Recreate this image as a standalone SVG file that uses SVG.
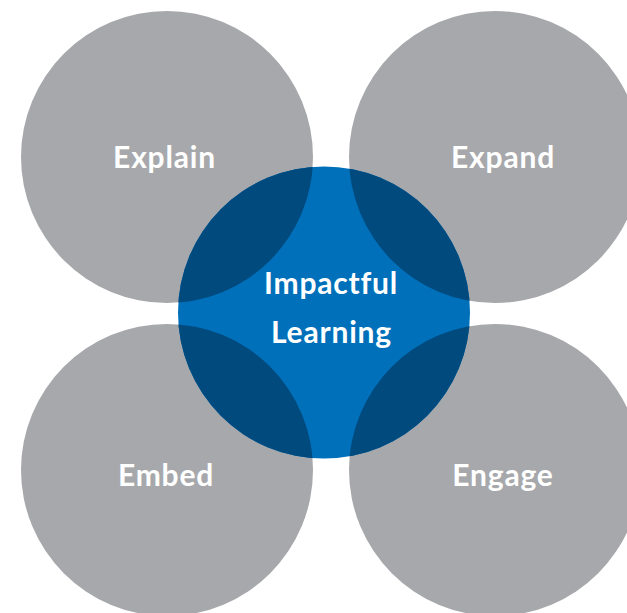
<svg xmlns="http://www.w3.org/2000/svg" width="627" height="613" viewBox="0 0 627 613">
<style>
.g{fill:#a7a8ab}
.b{fill:#0070ba}
.d{fill:#004a7e}
.t{fill:#ffffff;font-family:Lato,"Open Sans",sans-serif;font-weight:bold;font-size:30px;letter-spacing:0.8px;text-anchor:middle}
</style>
<defs>
<clipPath id="cc"><circle cx="324" cy="312.5" r="146"/></clipPath>
</defs>
<rect width="627" height="613" fill="#ffffff"/>
<g id="explain"><circle class="g" cx="167" cy="157" r="146"/></g>
<g id="expand"><circle class="g" cx="495" cy="157" r="146"/></g>
<g id="embed"><circle class="g" cx="167" cy="470" r="146"/></g>
<g id="engage"><circle class="g" cx="495" cy="470" r="146"/></g>
<g id="impactful-learning">
<circle class="b" cx="324" cy="312.5" r="146"/>
<g clip-path="url(#cc)">
<circle class="d" cx="167" cy="157" r="146"/>
<circle class="d" cx="495" cy="157" r="146"/>
<circle class="d" cx="167" cy="470" r="146"/>
<circle class="d" cx="495" cy="470" r="146"/>
</g>
</g>
<g id="connectors"/>
<g id="labels">
<text class="t" x="164.5" y="168">Explain</text>
<text class="t" x="503" y="168">Expand</text>
<text class="t" x="331" y="294">Impactful</text>
<text class="t" x="331.5" y="342.5">Learning</text>
<text class="t" x="166" y="485.5">Embed</text>
<text class="t" x="503" y="485.5">Engage</text>
</g>
</svg>
